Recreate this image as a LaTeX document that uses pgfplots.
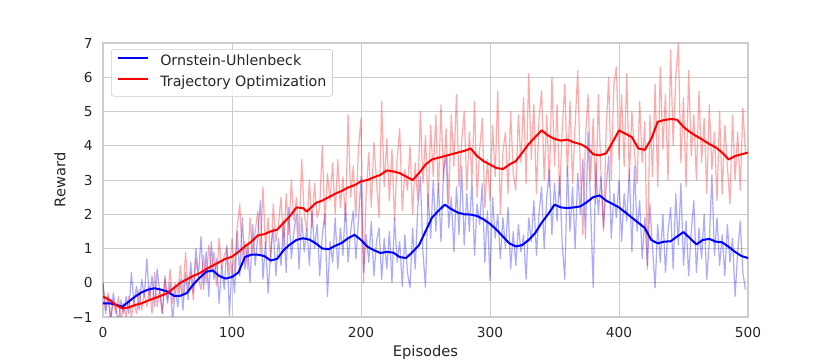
\documentclass[border=0pt]{standalone}
\usepackage{fontspec}
\setmainfont{DejaVu Sans}
\usepackage{pgfplots}
\pgfplotsset{compat=1.18}
\definecolor{gridc}{gray}{0.8}
\definecolor{txt}{gray}{0.15}
\begin{document}
\begin{tikzpicture}
\path[use as bounding box] (-77.25pt,-32.25pt) rectangle (546pt,237.75pt);
\begin{axis}[
  at={(0pt,0pt)}, anchor=south west,
  scale only axis, width=483.75pt, height=205.5pt,
  xmin=0, xmax=500, ymin=-1, ymax=7,
  xtick={0,100,...,500}, ytick={-1,0,...,7},
  xticklabels={0,100,200,300,400,500},
  yticklabels={−1,0,1,2,3,4,5,6,7},
  major tick length=0pt,
  grid=major, grid style={gridc, line width=0.75pt},
  axis line style={gridc, line width=1.1pt},
  tick label style={font=\fontsize{10.3}{12}\selectfont, text=txt},
  xticklabel style={yshift=-4.3pt},
  yticklabel style={xshift=-4.2pt},
  label style={font=\fontsize{11}{13}\selectfont, text=txt},
  xlabel=Episodes, ylabel=Reward,
  xlabel style={at={(axis description cs:0.5,-0.1277)}, anchor=center},
  ylabel style={at={(axis description cs:-0.0667,0.5)}, anchor=center},
  legend style={at={(0.0124,0.978)}, anchor=north west, draw=gridc, rounded corners=2pt,
    fill=white, fill opacity=0.8, text opacity=1, font=\fontsize{10.7}{12}\selectfont, text=txt,
    inner xsep=4.5pt, inner ysep=4.5pt, row sep=5.25pt,
    nodes={inner sep=0pt, text height=7.9pt, text depth=2.6pt},
    /tikz/every odd column/.append style={column sep=8.25pt}},
  legend cell align=left,
  legend image code/.code={\draw[#1, line width=1.5pt] (0pt,3.6pt) -- (22.5pt,3.6pt);},
]
% raw blue
\addplot[blue, line width=0.9pt, opacity=0.33, line join=round, forget plot] coordinates {
(0,0.0)(2,-0.9)(4,-0.4)(6,-1.1)(8,-0.3)(10,-0.8)(12,-1.1)(14,-0.5)(16,-0.9)(18,-0.4)
(20,-0.9)(22,0.3)(24,-0.6)(26,-0.1)(28,-0.8)(30,0.1)(32,-0.4)(34,0.7)(36,-0.5)(38,0.2)
(40,-0.7)(42,0.4)(44,-0.3)(46,-0.9)(48,0.2)(50,-0.6)(52,0.0)(54,-1.1)(56,-0.2)(58,-0.7)
(60,0.1)(62,-0.8)(64,0.3)(66,-0.5)(68,0.6)(70,-0.3)(72,1.0)(74,0.2)(76,1.35)(78,-0.2)
(80,0.9)(82,-0.4)(84,1.2)(86,0.1)(88,0.7)(90,-0.6)(92,0.5)(94,-0.2)(96,1.1)(98,-0.95)
(100,0.6)(102,-0.3)(104,1.5)(106,0.2)(108,1.9)(110,0.4)(112,1.1)(114,0.0)(116,1.7)(118,0.5)
(120,1.4)(122,2.4)(124,0.1)(126,1.2)(128,-0.3)(130,0.9)(132,1.6)(134,0.2)(136,1.3)(138,0.5)
(140,1.8)(142,0.3)(144,2.2)(146,0.7)(148,1.5)(150,2.0)(152,0.4)(154,1.9)(156,0.9)(158,1.6)
(160,0.5)(162,2.1)(164,1.0)(166,1.7)(168,0.2)(170,1.4)(172,2.0)(174,-0.4)(176,1.2)(178,0.6)
(180,1.9)(182,0.4)(184,1.6)(186,0.8)(188,2.3)(190,0.6)(192,1.5)(194,2.1)(196,0.7)(198,1.8)
(200,3.1)(202,0.3)(204,1.4)(206,0.6)(208,1.8)(210,0.2)(212,1.2)(214,1.6)(216,0.1)(218,1.3)
(220,0.4)(222,1.5)(224,0.0)(226,1.9)(228,0.6)(230,1.2)(232,-0.1)(234,1.4)(236,0.3)(238,-0.15)
(240,1.6)(242,0.4)(244,2.2)(246,3.1)(248,0.9)(250,-0.15)(252,2.6)(254,1.3)(256,3.0)(258,1.5)
(260,2.9)(262,1.2)(264,3.3)(266,3.7)(268,1.6)(270,2.5)(272,0.9)(274,2.8)(276,1.4)(278,3.4)
(280,1.1)(282,2.6)(284,1.5)(286,3.0)(288,0.8)(290,2.3)(292,1.7)(294,2.9)(296,0.6)(298,2.1)
(300,0.05)(302,2.5)(304,1.3)(306,2.0)(308,0.7)(310,1.9)(312,1.0)(314,2.2)(316,0.4)(318,1.5)
(320,0.5)(322,1.7)(324,0.9)(326,1.4)(328,0.1)(330,1.9)(332,1.2)(334,2.4)(336,0.8)(338,2.0)
(340,2.8)(342,1.0)(344,2.5)(346,3.3)(348,1.4)(350,2.9)(352,1.8)(354,3.1)(356,1.1)(358,0.1)
(360,3.4)(362,1.5)(364,2.8)(366,1.0)(368,3.2)(370,2.0)(372,3.6)(374,1.3)(376,4.4)(378,2.2)
(380,-0.15)(382,3.5)(384,2.0)(386,3.1)(388,1.6)(390,2.8)(392,3.7)(394,1.3)(396,2.6)(398,1.9)
(400,3.0)(402,1.2)(404,2.6)(406,1.8)(408,3.3)(410,0.9)(412,3.4)(414,1.5)(416,2.4)(418,0.7)
(420,1.9)(422,0.5)(424,2.3)(426,1.0)(428,-0.15)(430,1.7)(432,0.6)(434,2.0)(436,0.3)(438,1.5)
(440,2.2)(442,0.4)(444,2.6)(446,1.1)(448,2.9)(450,0.5)(452,1.8)(454,0.2)(456,1.5)(458,2.4)
(460,0.3)(462,1.6)(464,0.7)(466,2.0)(468,0.1)(470,1.2)(472,3.15)(474,0.8)(476,1.9)(478,0.5)
(480,1.4)(482,0.2)(484,1.7)(486,0.6)(488,1.3)(490,-0.4)(492,0.9)(494,1.8)(496,0.3)(498,-0.2)
};
% raw red
\addplot[red, line width=0.9pt, opacity=0.33, line join=round, forget plot] coordinates {
(0,0.0)(2,-0.8)(4,-0.3)(6,-1.1)(8,-0.5)(10,-0.9)(12,-0.4)(14,-1.1)(16,-0.6)(18,-1.0)
(20,-0.4)(22,-1.0)(24,-0.5)(26,-0.9)(28,-0.2)(30,-0.8)(32,-0.3)(34,-0.7)(36,-0.1)(38,-0.9)
(40,0.3)(42,-0.7)(44,-0.2)(46,-0.9)(48,0.1)(50,-0.5)(52,0.4)(54,-0.6)(56,0.0)(58,-0.3)
(60,0.5)(62,-0.4)(64,0.9)(66,-0.2)(68,0.3)(70,-0.5)(72,0.7)(74,0.1)(76,-0.2)(78,0.8)
(80,0.0)(82,1.1)(84,0.3)(86,0.9)(88,-0.1)(90,1.3)(92,0.4)(94,0.8)(96,1.0)(98,0.2)
(100,1.3)(102,0.3)(104,1.6)(106,2.3)(108,0.7)(110,1.2)(112,0.4)(114,1.9)(116,0.8)(118,1.5)
(120,2.1)(122,0.8)(124,2.8)(126,1.0)(128,1.9)(130,0.6)(132,2.3)(134,1.2)(136,1.7)(138,2.5)
(140,1.0)(142,2.6)(144,1.4)(146,3.0)(148,1.8)(150,2.5)(152,1.3)(154,3.6)(156,2.0)(158,1.5)
(160,3.0)(162,1.6)(164,2.9)(166,1.9)(168,2.2)(170,4.0)(172,1.7)(174,3.2)(176,2.4)(178,3.5)
(180,2.0)(182,3.6)(184,2.2)(186,3.1)(188,1.8)(190,4.9)(192,2.5)(194,3.4)(196,1.9)(198,3.9)
(200,4.8)(202,0.0)(204,2.6)(206,3.8)(208,2.2)(210,4.1)(212,3.0)(214,1.9)(216,5.3)(218,2.8)
(220,4.2)(222,2.4)(224,3.9)(226,1.8)(228,3.6)(230,4.5)(232,2.1)(234,3.3)(236,2.7)(238,4.0)
(240,2.0)(242,3.5)(244,2.4)(246,5.0)(248,2.9)(250,4.3)(252,2.2)(254,4.6)(256,3.1)(258,4.9)
(260,2.6)(262,5.2)(264,3.0)(266,4.5)(268,2.3)(270,4.9)(272,3.4)(274,5.5)(276,2.8)(278,4.1)
(280,5.0)(282,2.7)(284,4.4)(286,3.0)(288,5.3)(290,2.5)(292,3.9)(294,4.8)(296,2.2)(298,3.6)
(300,2.4)(302,4.6)(304,3.1)(306,5.6)(308,2.0)(310,3.8)(312,4.4)(314,2.6)(316,5.0)(318,3.2)
(320,2.7)(322,4.9)(324,3.5)(326,5.4)(328,2.9)(330,6.1)(332,3.6)(334,5.2)(336,2.6)(338,4.8)
(340,5.6)(342,3.0)(344,4.9)(346,2.8)(348,6.0)(350,3.4)(352,5.2)(354,2.5)(356,4.5)(358,5.8)
(360,3.1)(362,5.3)(364,2.9)(366,4.6)(368,6.2)(370,3.3)(372,1.4)(374,4.2)(376,5.5)(378,3.0)
(380,4.8)(382,2.3)(384,5.5)(386,3.2)(388,1.5)(390,4.4)(392,6.0)(394,3.0)(396,5.8)(398,6.3)
(400,3.6)(402,5.5)(404,3.4)(406,6.1)(408,3.0)(410,5.0)(412,3.8)(414,2.9)(416,5.3)(418,3.5)
(420,4.7)(422,0.4)(424,4.9)(426,3.1)(428,5.8)(430,2.8)(432,6.3)(434,3.9)(436,5.5)(438,3.0)
(440,6.8)(442,4.0)(444,6.0)(446,7.0)(448,3.5)(450,5.4)(452,2.8)(454,6.2)(456,3.7)(458,4.9)
(460,3.0)(462,5.6)(464,3.5)(466,4.8)(468,2.6)(470,5.2)(472,3.3)(474,4.4)(476,2.4)(478,5.0)
(480,2.6)(482,4.6)(484,3.4)(486,2.3)(488,4.9)(490,3.0)(492,4.4)(494,2.7)(496,5.1)(498,3.8)
};
% smoothed blue
\addplot[blue, line width=1.5pt, line join=round] coordinates {
(0,-0.6)(5,-0.6)(10,-0.64)(15,-0.7)(20,-0.55)(25,-0.4)(30,-0.28)(35,-0.2)(40,-0.16)(45,-0.2)
(50,-0.26)(55,-0.38)(60,-0.38)(65,-0.3)(70,-0.05)(75,0.15)(80,0.32)(85,0.36)(90,0.2)(95,0.12)
(100,0.17)(105,0.3)(110,0.75)(115,0.82)(120,0.82)(125,0.78)(130,0.65)(135,0.7)(140,0.95)(145,1.12)
(150,1.25)(155,1.3)(160,1.26)(165,1.15)(170,1.0)(175,0.98)(180,1.08)(185,1.16)(190,1.3)(195,1.4)
(200,1.25)(205,1.05)(210,0.95)(215,0.87)(220,0.9)(225,0.88)(230,0.75)(235,0.72)(240,0.9)(245,1.1)
(250,1.5)(255,1.9)(260,2.1)(265,2.28)(270,2.15)(275,2.05)(280,2.0)(285,1.99)(290,1.95)(295,1.85)
(300,1.72)(305,1.55)(310,1.35)(315,1.15)(320,1.06)(325,1.1)(330,1.25)(335,1.45)(340,1.75)(345,2.0)
(350,2.28)(355,2.2)(360,2.18)(365,2.2)(370,2.23)(375,2.35)(380,2.5)(385,2.55)(390,2.4)(395,2.3)
(400,2.2)(405,2.05)(410,1.9)(415,1.75)(420,1.6)(425,1.25)(430,1.15)(435,1.2)(440,1.21)(445,1.35)
(450,1.48)(455,1.3)(460,1.12)(465,1.25)(470,1.28)(475,1.2)(480,1.18)(485,1.05)(490,0.9)(495,0.78)(500,0.72)
};
\addlegendentry{Ornstein-Uhlenbeck}
% smoothed red
\addplot[red, line width=1.5pt, line join=round] coordinates {
(0,-0.4)(5,-0.5)(10,-0.65)(15,-0.75)(20,-0.72)(25,-0.65)(30,-0.6)(35,-0.52)(40,-0.45)(45,-0.38)
(50,-0.3)(55,-0.15)(60,0.0)(65,0.1)(70,0.2)(75,0.28)(80,0.4)(85,0.5)(90,0.6)(95,0.7)
(100,0.76)(105,0.9)(110,1.06)(115,1.2)(120,1.38)(125,1.42)(130,1.5)(135,1.55)(140,1.75)(145,1.95)
(150,2.2)(155,2.18)(158,2.08)(160,2.15)(165,2.33)(170,2.4)(175,2.5)(180,2.6)(185,2.68)(190,2.78)(195,2.85)
(200,2.96)(205,3.0)(210,3.08)(215,3.15)(220,3.28)(225,3.25)(230,3.2)(235,3.1)(240,3.0)(245,3.2)
(250,3.45)(255,3.6)(260,3.65)(265,3.7)(270,3.75)(275,3.8)(280,3.85)(285,3.92)(290,3.7)(295,3.55)
(300,3.45)(305,3.35)(310,3.32)(315,3.45)(320,3.55)(325,3.8)(330,4.05)(335,4.25)(340,4.45)(345,4.3)
(350,4.2)(355,4.15)(360,4.18)(365,4.1)(370,4.05)(375,3.95)(380,3.75)(385,3.72)(390,3.78)(395,4.1)
(400,4.45)(405,4.35)(410,4.25)(415,3.92)(420,3.88)(425,4.2)(430,4.7)(435,4.75)(440,4.78)(445,4.76)
(450,4.55)(455,4.4)(460,4.28)(465,4.17)(470,4.05)(475,3.95)(480,3.8)(485,3.6)(490,3.7)(495,3.75)(500,3.8)
};
\addlegendentry{Trajectory Optimization}
\end{axis}
\end{tikzpicture}
\end{document}
